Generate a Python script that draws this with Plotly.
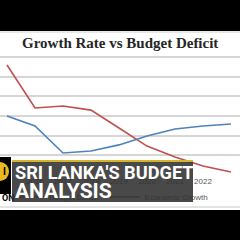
import plotly.graph_objects as go

years = [2015, 2016, 2017, 2018, 2019, 2020, 2021, 2022, 2023]
budget_deficit = [5.59, 3.41, 3.51, 3.30, 2.39, 1.47, 0.92, 0.46, 0.15]
economic_growth = [3.00, 2.49, 1.12, 1.22, 1.53, 1.98, 2.34, 2.49, 2.59]
y_grid = [0, 1, 2, 3, 4, 5, 6]
year_labels = [str(y) for y in years]

W = H = 240
def px(x):
    return x / W
def py(y):
    return 1 - y / H

fig = go.Figure()
fig.add_trace(go.Scatter(x=years, y=budget_deficit, mode="lines", name="Budget Deficit",
                         line=dict(color="#C0504D", width=1.6)))
fig.add_trace(go.Scatter(x=years, y=economic_growth, mode="lines", name="Economic Growth",
                         line=dict(color="#4F81BD", width=1.6)))

shapes = [
    dict(type="rect", xref="paper", yref="paper", x0=0, x1=1, y0=py(31), y1=1,
         fillcolor="black", line_width=0, layer="above"),
    dict(type="rect", xref="paper", yref="paper", x0=0, x1=1, y0=0, y1=py(210),
         fillcolor="black", line_width=0, layer="above"),
    dict(type="line", xref="paper", yref="paper", x0=0, x1=1, y0=py(207), y1=py(207),
         line=dict(color="#c8c8c8", width=1), layer="above"),
    dict(type="line", xref="paper", yref="paper", x0=0, x1=1, y0=py(32), y1=py(32),
         line=dict(color="#d0d0d0", width=1), layer="above"),
    dict(type="rect", xref="paper", yref="paper", x0=0, x1=px(11), y0=py(194), y1=py(157),
         fillcolor="black", line_width=0, layer="above"),
    dict(type="circle", xref="paper", yref="paper", x0=px(-9), x1=px(9), y0=py(181), y1=py(162),
         fillcolor="#e9b823", line_width=0, layer="above"),
]

ann = [
    dict(text="<b>Growth Rate vs Budget Deficit</b>", x=0.5, y=py(43), xref="paper", yref="paper",
         xanchor="center", yanchor="middle", showarrow=False,
         font=dict(family="Liberation Serif", size=15, color="#262626")),
    dict(text="<b>I</b>", x=px(4), y=py(171), xref="paper", yref="paper", xanchor="center",
         yanchor="middle", showarrow=False, font=dict(family="Roboto", size=10, color="black")),
    dict(text="<b>ON</b>", x=px(0), y=py(198), xref="paper", yref="paper", xanchor="left",
         yanchor="middle", showarrow=False, font=dict(family="Roboto", size=9, color="black")),
    dict(text=" ", x=px(12), y=py(161), xref="paper", yref="paper", xanchor="left", yanchor="top",
         width=181, height=41, bgcolor="rgba(48,48,48,0.88)", borderpad=0, borderwidth=0,
         showarrow=False, font=dict(size=8)),
    dict(text=" ", x=px(12), y=py(160), xref="paper", yref="paper", xanchor="left", yanchor="top",
         width=181, height=2, bgcolor="#d4b52a", borderpad=0, borderwidth=0,
         showarrow=False, font=dict(size=1)),
    dict(text="<b>SRI LANKA'S BUDGET</b>", x=px(13), y=py(172), xref="paper", yref="paper",
         xanchor="left", yanchor="middle", showarrow=False,
         font=dict(family="Roboto", size=18.2, color="white")),
    dict(text="<b>ANALYSIS</b>", x=px(13), y=py(191), xref="paper", yref="paper",
         xanchor="left", yanchor="middle", showarrow=False,
         font=dict(family="Roboto", size=21, color="white")),
]

fig.update_layout(
    width=W, height=H, margin=dict(l=0, r=0, t=0, b=0),
    paper_bgcolor="white", plot_bgcolor="white",
    showlegend=True,
    legend=dict(orientation="h", x=px(9), y=py(197), xanchor="left", yanchor="middle",
                font=dict(family="Liberation Sans", size=8, color="#595959"),
                bgcolor="rgba(0,0,0,0)", itemwidth=30, tracegroupgap=0),
    xaxis=dict(range=[2015 - 7 / 28, 2015 + 233 / 28], tickvals=years, ticktext=year_labels,
               showgrid=False, zeroline=False, showline=False, ticks="",
               tickfont=dict(family="Liberation Sans", size=8, color="#595959")),
    yaxis=dict(domain=[py(175), py(31)], range=[0, 144 / 19.67], tickvals=y_grid,
               showticklabels=False, showgrid=True, gridcolor="#d6d6d6", gridwidth=1.5,
               zeroline=False, showline=False),
    shapes=shapes, annotations=ann,
)

fig.write_html("out.html")
